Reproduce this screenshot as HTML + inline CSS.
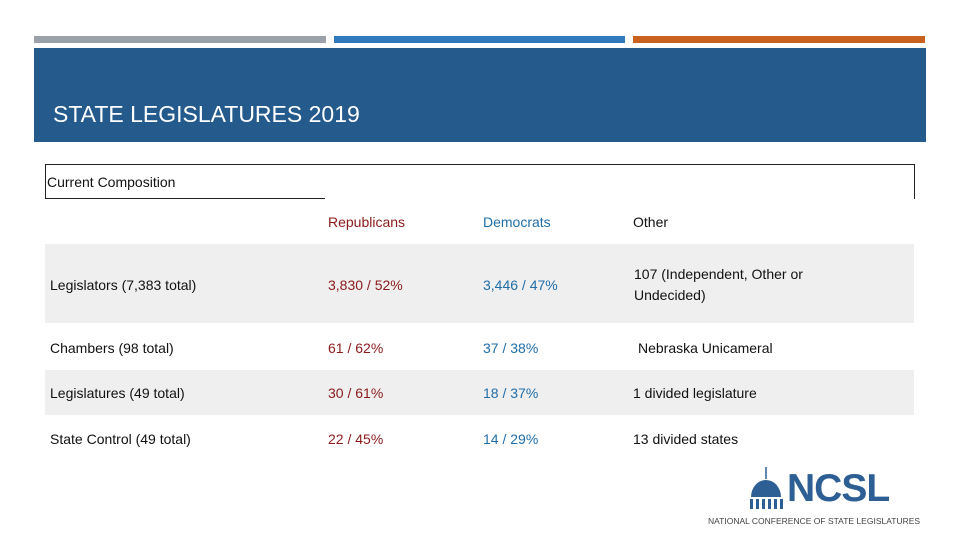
<!DOCTYPE html>
<html><head><meta charset="utf-8"><style>
body{margin:0;width:960px;height:540px;background:#fff;position:relative;overflow:hidden;font-family:"Liberation Sans",sans-serif}
div{position:absolute}
.t{font-size:14px;color:#111;white-space:nowrap}
.r{color:#8b1a1a}.d{color:#1f6ea8}
.g{background:#efefef;left:45px;width:869px}
</style></head><body>
<div style="left:34px;top:36px;width:292px;height:7px;background:#9aa1a8"></div>
<div style="left:334px;top:36px;width:291px;height:7px;background:#3278bd"></div>
<div style="left:633px;top:36px;width:292px;height:7px;background:#c8621e"></div>
<div style="left:34px;top:48px;width:892px;height:94px;background:#255a8c"></div>
<div style="left:53px;top:101px;font-size:23px;color:#fff">STATE LEGISLATURES 2019</div>
<div style="left:45px;top:164px;width:868px;height:34px;border:1px solid #222;border-bottom:none"></div>
<div style="left:45px;top:198px;width:280px;height:1px;background:#222"></div>
<div class="t" style="left:47px;top:174px">Current Composition</div>
<div class="g" style="top:244px;height:79px"></div>
<div class="g" style="top:370px;height:45px"></div>
<div class="t r" style="left:328px;top:214px">Republicans</div>
<div class="t d" style="left:483px;top:214px">Democrats</div>
<div class="t" style="left:633px;top:214px">Other</div>
<div class="t" style="left:50px;top:277px">Legislators (7,383 total)</div>
<div class="t r" style="left:328px;top:277px">3,830 / 52%</div>
<div class="t d" style="left:483px;top:277px">3,446 / 47%</div>
<div class="t" style="left:634px;top:264px;line-height:21px">107 (Independent, Other or<br>Undecided)</div>
<div class="t" style="left:50px;top:340px">Chambers (98 total)</div>
<div class="t r" style="left:328px;top:340px">61 / 62%</div>
<div class="t d" style="left:483px;top:340px">37 / 38%</div>
<div class="t" style="left:638px;top:340px">Nebraska Unicameral</div>
<div class="t" style="left:50px;top:385px">Legislatures (49 total)</div>
<div class="t r" style="left:328px;top:385px">30 / 61%</div>
<div class="t d" style="left:483px;top:385px">18 / 37%</div>
<div class="t" style="left:633px;top:385px">1 divided legislature</div>
<div class="t" style="left:50px;top:431px">State Control (49 total)</div>
<div class="t r" style="left:328px;top:431px">22 / 45%</div>
<div class="t d" style="left:483px;top:431px">14 / 29%</div>
<div class="t" style="left:633px;top:431px">13 divided states</div>
<div style="left:705px;top:465px;width:220px;height:65px">
<svg width="42" height="45" style="position:absolute;left:40px;top:2px"><line x1="21" y1="0" x2="21" y2="12" stroke="#2d5f94" stroke-width="1.5"/><path d="M6 30 A15 17 0 0 1 36 30 Z" fill="#2d5f94"/><g fill="#2d5f94"><rect x="5" y="32" width="3" height="10"/><rect x="11" y="32" width="3" height="10"/><rect x="17" y="32" width="3" height="10"/><rect x="23" y="32" width="3" height="10"/><rect x="29" y="32" width="3" height="10"/><rect x="35" y="32" width="3" height="10"/></g></svg>
<div style="left:82px;top:2px;font-size:39px;font-weight:bold;color:#2d5f94;letter-spacing:-1px">NCSL</div>
<div style="left:3px;top:51px;font-size:8.5px;color:#444;white-space:nowrap">NATIONAL CONFERENCE OF STATE LEGISLATURES</div>
</div>
</body></html>
